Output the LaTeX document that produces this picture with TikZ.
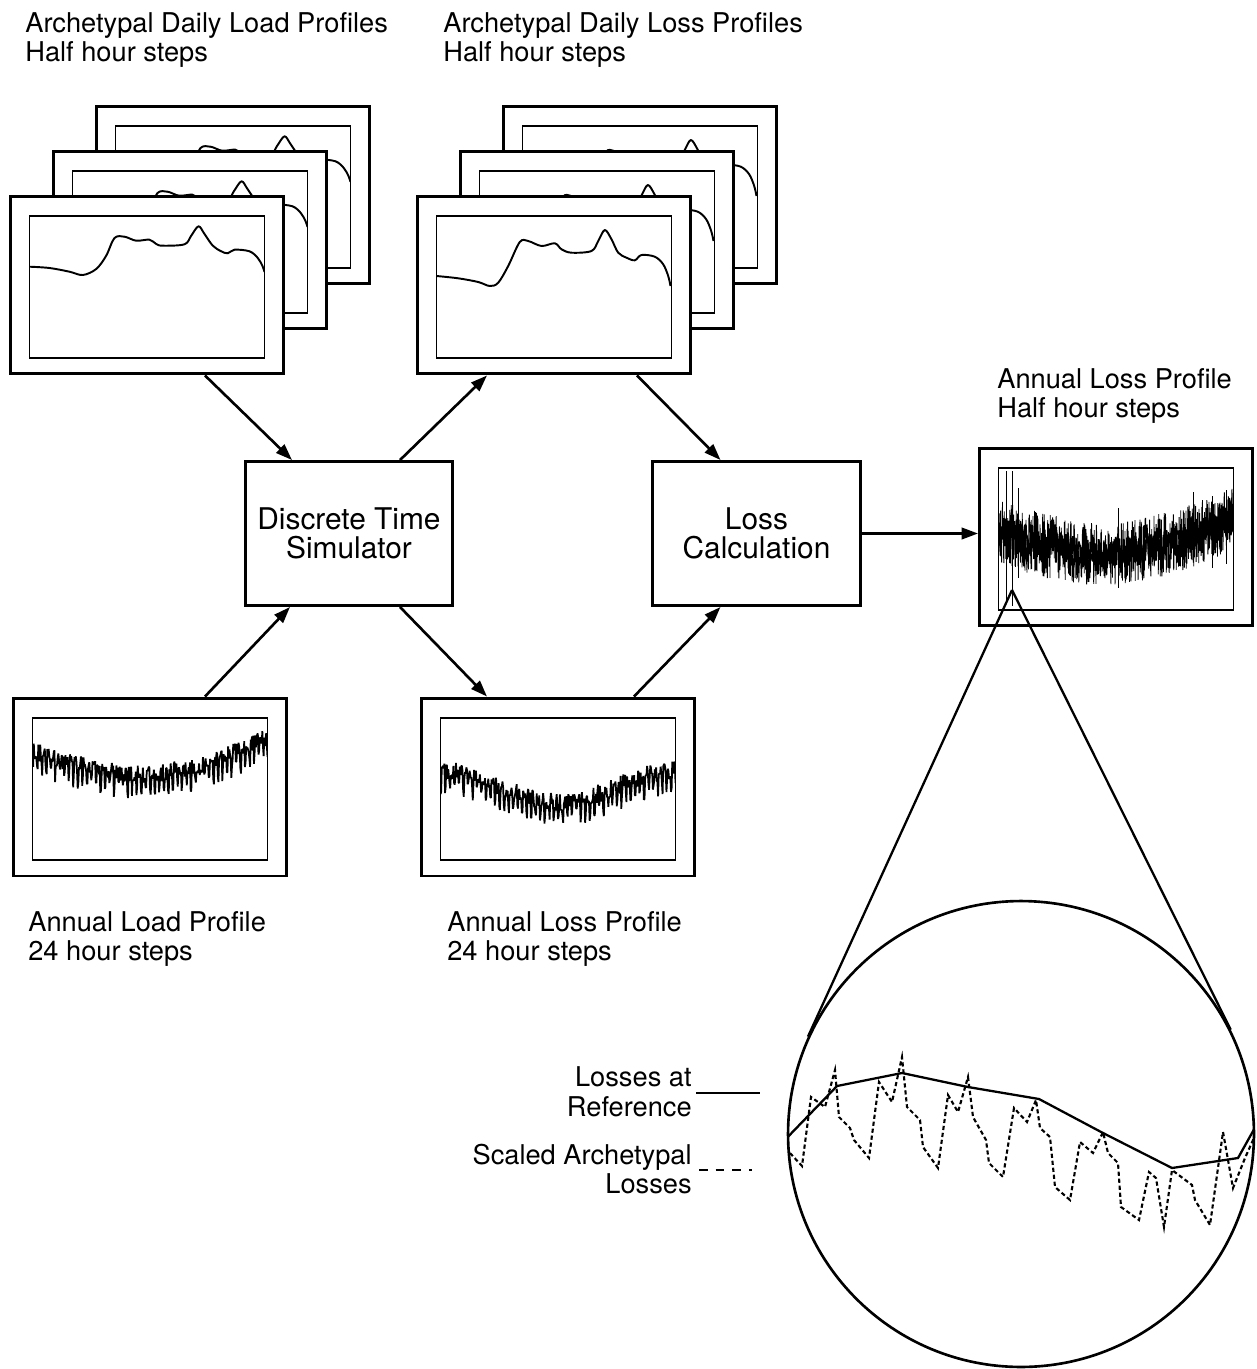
\documentclass[tikz,border=0pt]{standalone}
\usepackage{fontspec}
\setmainfont{TeX Gyre Heros}
\usetikzlibrary{arrows.meta,calc}
\tikzset{
  >={Triangle[length=3.3mm,width=2.3mm]},
  flow/.style={->,line width=1.5pt},
  frame/.style={draw,line width=1.7pt,fill=white,inner sep=0pt,
    minimum width=5.46cm,minimum height=3.56cm},
  % a framed screen; its window starts 19,20 inside the frame
  pics/screen/.style={code={
    \node[frame] (-frame) at (0,0) {};
    \begin{scope}[shift={(-117.5,-69)}]
      \draw[line width=1.1pt] (0,0) rectangle (235,142);
      \clip (0,0) rectangle (235,142);
      #1
    \end{scope}
  }},
  procbox/.style={draw,line width=1.7pt,minimum width=4.16cm,minimum height=2.88cm,
    align=center,font=\fontsize{17}{16.5}\selectfont},
  tag/.style={anchor=west,align=left,inner sep=0pt,font=\fontsize{15.5}{17}\selectfont},
  keytag/.style={anchor=east,align=right,inner sep=0pt,font=\fontsize{15.5}{17}\selectfont},
  trace/.style={line width=1.1pt,line join=round},
  noise/.style={line width=#1,line join=bevel},
  noise/.default=1pt,
}
% one archetypal day, in the window's own coordinates
\newcommand\loadday{\draw[trace] plot[smooth,tension=0.55] coordinates {(0,50.7) (20,52) (40,55.7) (53.3,59) (66.7,53) (76.7,39.7) (85,22) (95,20.7) (106.7,24.7) (120,23.7) (126.7,28) (133.3,29.7) (155,28.3) (161.7,19.7) (169,10.3) (175,18) (183.3,29.7) (191.7,35.3) (198.3,37.3) (205,33.7) (220,35.3) (228.3,42) (233,50) (235,56)};}
\newcommand\lossday{\draw[trace] plot[smooth,tension=0.55] coordinates {(0,60) (21.7,62.3) (41.7,66) (53.3,70) (61.7,66.7) (71.7,50) (83.3,26) (91.7,25) (105,30) (118.3,27.3) (125,33.3) (135,36.7) (155,35) (161.7,25) (168.3,14) (175,23.3) (181.7,36.7) (190,41.7) (198.3,44.3) (205,39) (218.3,40.7) (226.7,48.3) (231.7,60) (234,70)};}
% a year of readings (0.766 = 180/235, 1.549 = 364/235: day number, weekends drop)
\newcommand\loadyear{\draw[noise] plot[domain=0:235,samples=365] (\x,{32+30*sin(0.766*\x)-0.0553*\x+9*rand+16*(mod(round(1.549*\x),7)<2)});}
\newcommand\lossyear{\draw[noise] plot[domain=0:235,samples=365] (\x,{52+32*(sin(0.766*\x))^2+9*rand+16*(mod(round(1.549*\x),7)<2)});}
\newcommand\lossfine{\draw[noise=0.45pt] plot[domain=0:235,samples=900] (\x,{64+28*sin(0.766*\x)-0.0596*\x+32*rand});
  \draw[noise=1.1pt] plot[domain=0:235,samples=320] (\x,{64+28*sin(0.766*\x)-0.0596*\x+16*rand});
  \foreach \s/\a/\b in {8/3/134,14/3/138,20/20/110,120/40/120,195/24/80,214/28/100,228/22/96}
    \draw[line width=0.8pt] (\s,\a) -- (\s,\b);}

\begin{document}
\begin{tikzpicture}[x=0.02cm,y=-0.02cm]
  \useasboundingbox (0,0) rectangle (1257,1369);
  \pgfmathsetseed{42}
  % stacks of daily profiles
  \foreach \k in {2,1,0}{
    \pic (ld\k) at (147+43*\k,285-45*\k) {screen=\loadday};
    \pic (lo\k) at (554+43*\k,285-45*\k) {screen=\lossday};
  }
  \node[procbox] (sim) at (349,533.5) {Discrete Time\\Simulator};
  \node[procbox] (losscalc) at (756.5,533.5) {Loss\\Calculation};
  \pic (ldyr) at (150,787) {screen=\loadyear};
  \pic (loyr) at (558,787) {screen=\lossyear};
  \pic (lohh) at (1116,537) {screen=\lossfine};

  \node[tag] (ldlab) at (25,40) {Archetypal Daily Load Profiles\\Half hour steps};
  \node[tag] (lolab) at (443,40) {Archetypal Daily Loss Profiles\\Half hour steps};
  \node[tag] (hhlab) at (997,396) {Annual Loss Profile\\Half hour steps};
  \node[tag] (yrlab) at (28,939) {Annual Load Profile\\24 hour steps};
  \node[tag] (lyrlab) at (447,939) {Annual Loss Profile\\24 hour steps};

  \draw[flow] ($(ld0-frame.south)+(58,0)$) -- ($(sim.north)+(-57,0)$);
  \draw[flow] ($(ldyr-frame.north)+(55,0)$) -- ($(sim.south)+(-59,0)$);
  \draw[flow] ($(sim.north)+(51,0)$) -- ($(lo0-frame.south)+(-67,0)$);
  \draw[flow] ($(sim.south)+(51,0)$) -- ($(loyr-frame.north)+(-71,0)$);
  \draw[flow] ($(lo0-frame.south)+(83,0)$) -- ($(losscalc.north)+(-36,0)$);
  \draw[flow] ($(loyr-frame.north)+(76,0)$) -- ($(losscalc.south)+(-36,0)$);
  \draw[flow] (losscalc.east) -- (losscalc.east -| lohh-frame.west);

  % magnified view
  \node[circle,draw,line width=1.5pt,minimum size=9.32cm,inner sep=0pt] (lens) at (1021,1134) {};
  \coordinate (spot) at (1012,590);
  \draw[line width=1.3pt] (spot) -- (tangent cs:node=lens,point={(spot)},solution=1);
  \draw[line width=1.3pt] (spot) -- (tangent cs:node=lens,point={(spot)},solution=2);
  \begin{scope}
    \clip (lens.center) circle [radius=4.64cm];
    \draw[line width=1.3pt] plot coordinates {(780,1145) (837,1086) (902,1073) (968,1087) (1039,1099) (1103,1133) (1172,1168) (1238,1158) (1262,1115)};
    \draw[line width=1.2pt,dash pattern=on 2.4pt off 1.6pt] plot coordinates {(785,1140) (789,1152) (802,1166) (811,1097) (825,1107) (835,1070) (839,1117) (850,1128) (854,1140) (869,1158) (879,1082) (892,1102) (902,1057) (907,1107) (920,1120) (923,1147) (938,1168) (948,1095) (958,1112) (968,1077) (973,1117) (986,1140) (989,1163) (1003,1177) (1014,1108) (1027,1122) (1036,1100) (1040,1128) (1050,1137) (1055,1187) (1070,1200) (1080,1142) (1093,1153) (1103,1132) (1108,1153) (1118,1163) (1121,1207) (1139,1220) (1149,1172) (1156,1178) (1164,1227) (1172,1170) (1192,1185) (1195,1200) (1210,1225) (1223,1132) (1233,1188) (1245,1158) (1253,1140) (1260,1120)};
  \end{scope}
  \node[keytag] (refl) at (692,1091.5) {Losses at\\Reference};
  \draw[line width=1pt] ($(refl.east)+(4,1.5)$) -- ++(64,0);
  \node[keytag] (scl) at (692,1169) {Scaled Archetypal\\Losses};
  \draw[line width=1pt,dash pattern=on 5pt off 4.5pt] ($(scl.east)+(7,1)$) -- ++(53,0);
\end{tikzpicture}
\end{document}
